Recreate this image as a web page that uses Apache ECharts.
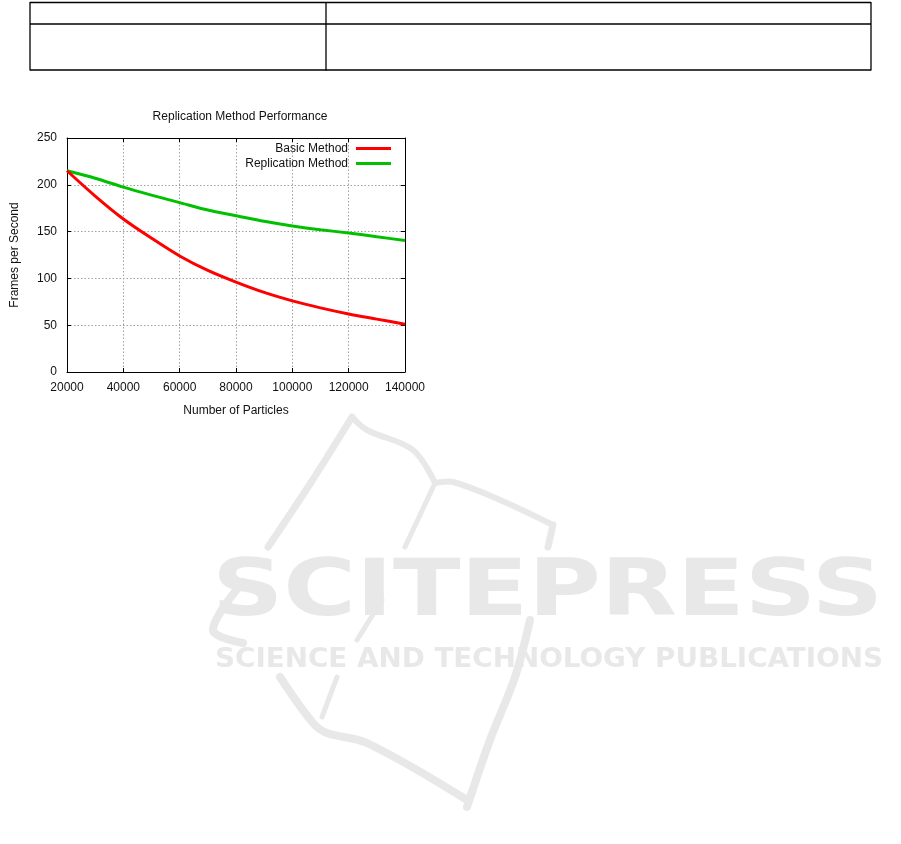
<!DOCTYPE html>
<html>
<head>
<meta charset="utf-8">
<script src="https://cdn.jsdelivr.net/npm/echarts@6/dist/echarts.min.js"></script>
<style>html,body{margin:0;padding:0;background:#fff;}#c{width:901px;height:844px;}</style>
</head>
<body>
<div id="c"></div>
<script>
var particles = [20000, 30000, 40000, 50000, 60000, 70000, 80000, 90000, 100000, 110000, 120000, 130000, 140000];
var basicFps = [215, 188, 163.5, 143, 124, 108.5, 96, 85, 76, 68.5, 62, 56.5, 51];
var replicationFps = [215, 207, 197.5, 189, 181, 173, 167, 161, 156, 152, 148.5, 144.5, 140.5];
var xTicks = [20000, 40000, 60000, 80000, 100000, 120000, 140000];
var yTicks = [0, 50, 100, 150, 200, 250];

function pairs(xs, ys) { return xs.map(function (x, i) { return [x, ys[i]]; }); }

var FONT = 'Liberation Sans';
var WM = '#e7e8e7';
var chart = echarts.init(document.getElementById('c'), null, {renderer: 'canvas'});

var mctx = document.createElement('canvas').getContext('2d');
function fitScale(text, font, target) {
  mctx.font = font;
  return target / mctx.measureText(text).width;
}

function poly(points, w) {
  return {type: 'polyline', silent: true, z: -10, shape: {points: points, smooth: 0.35},
    style: {stroke: WM, lineWidth: w, fill: null, lineCap: 'round'}};
}

var wm1Font = 'bold 78px "DejaVu Sans"';
var wm2Font = 'bold 26px "DejaVu Sans"';
var wm1 = 'SCITEPRESS';
var wm2 = 'SCIENCE AND TECHNOLOGY PUBLICATIONS';

var graphics = [
  // table
  {type: 'line', shape: {x1: 30, y1: 2.5, x2: 871, y2: 2.5}, style: {stroke: '#000', lineWidth: 1.3}},
  {type: 'line', shape: {x1: 30, y1: 24, x2: 871, y2: 24}, style: {stroke: '#000', lineWidth: 1.3}},
  {type: 'line', shape: {x1: 30, y1: 70, x2: 871, y2: 70}, style: {stroke: '#000', lineWidth: 1.3}},
  {type: 'line', shape: {x1: 30, y1: 2, x2: 30, y2: 70.5}, style: {stroke: '#000', lineWidth: 1.3}},
  {type: 'line', shape: {x1: 326, y1: 2, x2: 326, y2: 70.5}, style: {stroke: '#000', lineWidth: 1.3}},
  {type: 'line', shape: {x1: 871, y1: 2, x2: 871, y2: 70.5}, style: {stroke: '#000', lineWidth: 1.3}},
  // watermark book
  poly([[352, 417], [310, 484], [268, 547]], 7),
  poly([[352, 417], [367, 430], [413, 450], [435, 483]], 6),
  poly([[435, 483], [453, 482], [500, 500], [553, 525]], 6),
  poly([[553, 525], [548, 547]], 7),
  poly([[530, 620], [515, 677], [490, 740], [467, 807]], 8),
  poly([[435, 483], [405, 547]], 5),
  poly([[382, 600], [357, 640]], 5),
  poly([[337, 677], [322, 717]], 5),
  poly([[243, 582], [213, 630], [243, 643]], 8),
  poly([[280, 677], [313, 723], [327, 733], [367, 743], [467, 800]], 8),
  {type: 'text', silent: true, z: -5, x: 212, y: 556, scaleX: fitScale(wm1, wm1Font, 671), scaleY: 1,
    style: {text: wm1, font: wm1Font, fill: WM, textVerticalAlign: 'top'}},
  {type: 'text', silent: true, z: -5, x: 215, y: 647, scaleX: fitScale(wm2, wm2Font, 668), scaleY: 1,
    style: {text: wm2, font: wm2Font, fill: WM, textVerticalAlign: 'top'}}
];

var axisLabelStyle = {fontFamily: FONT, fontSize: 12, color: '#111'};

var option = {
  backgroundColor: '#fff',
  animation: false,
  textStyle: {fontFamily: FONT},
  title: {
    text: 'Replication Method Performance',
    left: 235, top: 106, textAlign: 'center',
    textStyle: {fontFamily: FONT, fontSize: 12, fontWeight: 'normal', color: '#111'}
  },
  legend: {
    orient: 'vertical', right: 510, top: 136, align: 'right',
    itemWidth: 35, itemHeight: 3, itemGap: 0, icon: 'rect',
    textStyle: {fontFamily: FONT, fontSize: 12, color: '#111', lineHeight: 15, padding: [0, 3, 0, 0]},
    data: ['Basic Method', 'Replication Method']
  },
  grid: {left: 67, right: 496, top: 138, height: 234, containLabel: false},
  xAxis: [{
    type: 'value', min: 20000, max: 140000, interval: 20000, position: 'bottom',
    name: 'Number of Particles', nameLocation: 'middle', nameGap: 33,
    nameTextStyle: {fontFamily: FONT, fontSize: 12, color: '#111'},
    axisLine: {show: true, onZero: false, lineStyle: {color: '#000', width: 1}},
    axisTick: {show: true, inside: true, length: 4, lineStyle: {color: '#000'}},
    axisLabel: Object.assign({margin: 10, formatter: function (v) { return String(v); }}, axisLabelStyle),
    splitLine: {show: true, lineStyle: {color: '#a0a0a0', type: [1.5, 2], width: 1}}
  }, {
    type: 'value', min: 20000, max: 140000, interval: 20000, position: 'top',
    axisLine: {show: true, onZero: false, lineStyle: {color: '#000', width: 1}},
    axisTick: {show: true, inside: true, length: 4, lineStyle: {color: '#000'}},
    axisLabel: {show: false}, splitLine: {show: false}
  }],
  yAxis: [{
    type: 'value', min: 0, max: 250, interval: 50, position: 'left',
    name: 'Frames per Second', nameLocation: 'middle', nameGap: 46,
    nameTextStyle: {fontFamily: FONT, fontSize: 12, color: '#111'},
    axisLine: {show: true, onZero: false, lineStyle: {color: '#000', width: 1}},
    axisTick: {show: true, inside: true, length: 4, lineStyle: {color: '#000'}},
    axisLabel: Object.assign({margin: 10, formatter: function (v) { return String(v); }}, axisLabelStyle),
    splitLine: {show: true, lineStyle: {color: '#a0a0a0', type: [1.5, 2], width: 1}}
  }, {
    type: 'value', min: 0, max: 250, interval: 50, position: 'right',
    axisLine: {show: true, onZero: false, lineStyle: {color: '#000', width: 1}},
    axisTick: {show: true, inside: true, length: 4, lineStyle: {color: '#000'}},
    axisLabel: {show: false}, splitLine: {show: false}
  }],
  series: [{
    name: 'Basic Method', type: 'line', xAxisIndex: 0, yAxisIndex: 0,
    data: pairs(particles, basicFps), smooth: 0.3, showSymbol: false, symbol: 'none',
    itemStyle: {color: '#ff0000'}, lineStyle: {color: '#ff0000', width: 3}, z: 3
  }, {
    name: 'Replication Method', type: 'line', xAxisIndex: 0, yAxisIndex: 0,
    data: pairs(particles, replicationFps), smooth: 0.3, showSymbol: false, symbol: 'none',
    itemStyle: {color: '#00c000'}, lineStyle: {color: '#00c000', width: 3}, z: 2
  }],
  graphic: graphics
};
option.legend.right = 505;
chart.setOption(option);
</script>
</body>
</html>
